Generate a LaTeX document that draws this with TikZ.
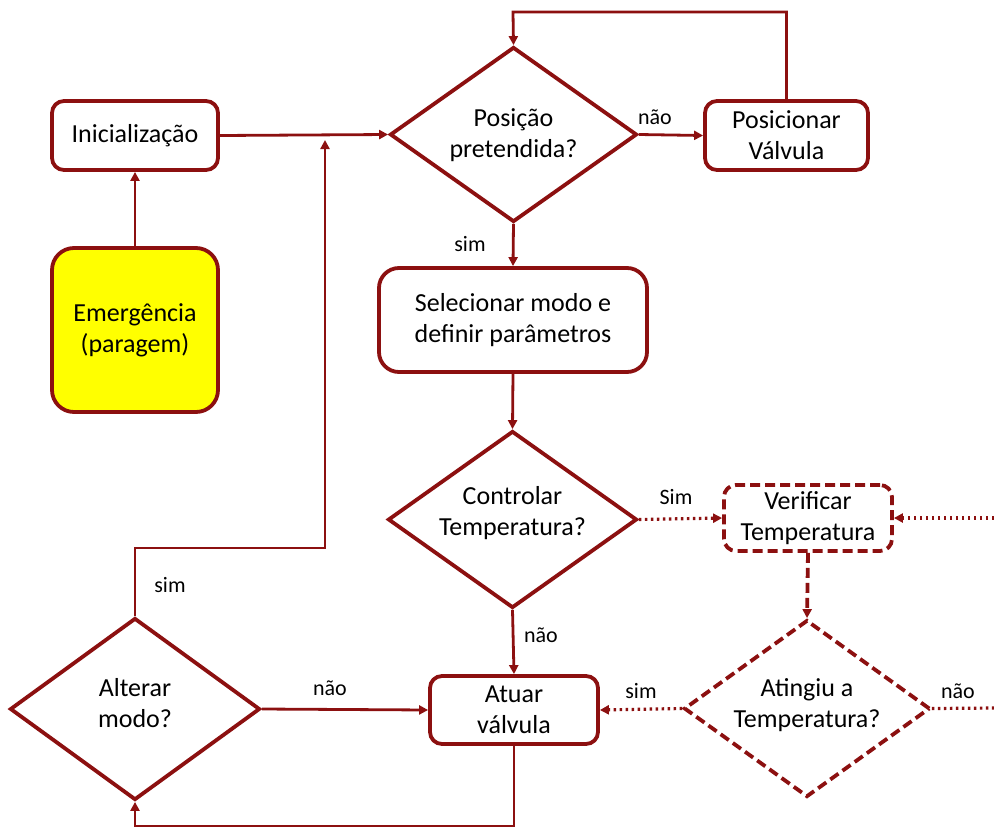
\documentclass[tikz,border=0pt]{standalone}
\usepackage{fontspec}
\setmainfont{Carlito}
\usetikzlibrary{shapes.geometric,arrows.meta}
\definecolor{wine}{RGB}{140,16,16}
\definecolor{yel}{RGB}{255,255,0}
\begin{document}
\begin{tikzpicture}[x=1pt,y=-1pt,
  txt/.style={font=\fontsize{26}{31}\selectfont,align=center,text=black},
  lbl/.style={font=\fontsize{22}{24}\selectfont,text=black},
  boxnode/.style={txt,draw=wine,line width=3.8pt,rounded corners=12pt,fill=white,inner sep=0pt},
  decision/.style={diamond,draw=wine,line width=3.8pt,fill=white,inner sep=0pt},
  flow/.style={draw=wine,line width=2.8pt,-{Triangle[length=9pt,width=9pt]}},
  dotflow/.style={draw=wine,line width=3.2pt,dash pattern=on 2.5pt off 3.5pt,-{Triangle[length=9pt,width=9pt]}},
  dashbox/.style={dash pattern=on 10pt off 5pt,line width=3.8pt}
]
\useasboundingbox (0,0) rectangle (994,828);

% process boxes
\node[boxnode,minimum width=166pt,minimum height=69pt] (init) at (135,135.5) {Inicialização};
\node[boxnode,fill=yel,rounded corners=22pt,minimum width=166pt,minimum height=164pt] (emerg) at (135,330) {Emergência\\(paragem)};
\node[boxnode,minimum width=163pt,minimum height=69pt] (posv) at (786.5,135.5) {Posicionar\\Válvula};
\node[boxnode,rounded corners=20pt,minimum width=268pt,minimum height=104pt] (sel) at (513,320) {Selecionar modo e\\definir parâmetros};
\node[boxnode,minimum width=168pt,minimum height=68pt] (atuar) at (514,710) {Atuar\\válvula};
\node[boxnode,dashbox,minimum width=168pt,minimum height=66pt] (verif) at (808,518) {Verificar\\Temperatura};

% decisions: the shape is sized by its minimum size, the question sits on top
\node[decision,minimum width=247pt,minimum height=175pt] (pos) at (513.5,134.5) {};
\node[decision,minimum width=249pt,minimum height=177pt] (ctrl) at (512.5,519.5) {};
\node[decision,dashbox,minimum width=246pt,minimum height=177pt] (ating) at (807,708.5) {};
\node[decision,minimum width=250pt,minimum height=182pt] (alt) at (135,709) {};
\node[txt] (posq) at (513.5,135) {Posição\\pretendida?};
\node[txt] (ctrlq) at (512.5,513) {Controlar\\Temperatura?};
\node[txt] (atingq) at (807,705) {Atingiu a\\Temperatura?};
\node[txt] (altq) at (135,703) {Alterar\\modo?};

% free ends and bends
\coordinate (joinup) at (325,140);
\coordinate (rin) at (994,518);
\coordinate (rout) at (994,708);

% solid connectors
\draw[flow] (init.east) -- (pos.west);
\draw[flow] (emerg.north) -- (init.south);
\draw[flow] (pos.east) -- (posv.west);
\draw[flow] (posv.north) |- (513,12) -- (pos.north);
\draw[flow] (pos.south) -- (sel.north);
\draw[flow] (sel.south) -- (ctrl.north);
\draw[flow] (ctrl.south) -- (atuar.north);
\draw[flow] (alt.east) -- (atuar.west);
\draw[flow] (alt.north) |- (325,548) -- (joinup);
\draw[flow] (atuar.south) |- (135,826) -- (alt.south);

% dotted / dashed connectors
\draw[dotflow] (ctrl.east) -- (verif.west);
\draw[dotflow] (rin) -- (verif.east);
\draw[draw=wine,dashbox,-{Triangle[length=9pt,width=9pt]}] (verif.south) -- (ating.north);
\draw[dotflow] (ating.west) -- (atuar.east);
\draw[draw=wine,line width=3.2pt,dash pattern=on 2.5pt off 3.5pt] (ating.east) -- (rout);

% branch labels
\node[lbl] (l1) at (655,117) {não};
\node[lbl] (l2) at (470,244) {sim};
\node[lbl] (l3) at (676,497) {Sim};
\node[lbl] (l4) at (541,635) {não};
\node[lbl] (l5) at (641,691) {sim};
\node[lbl] (l6) at (958,691) {não};
\node[lbl] (l7) at (330,688) {não};
\node[lbl] (l8) at (170,585) {sim};
\end{tikzpicture}
\end{document}
